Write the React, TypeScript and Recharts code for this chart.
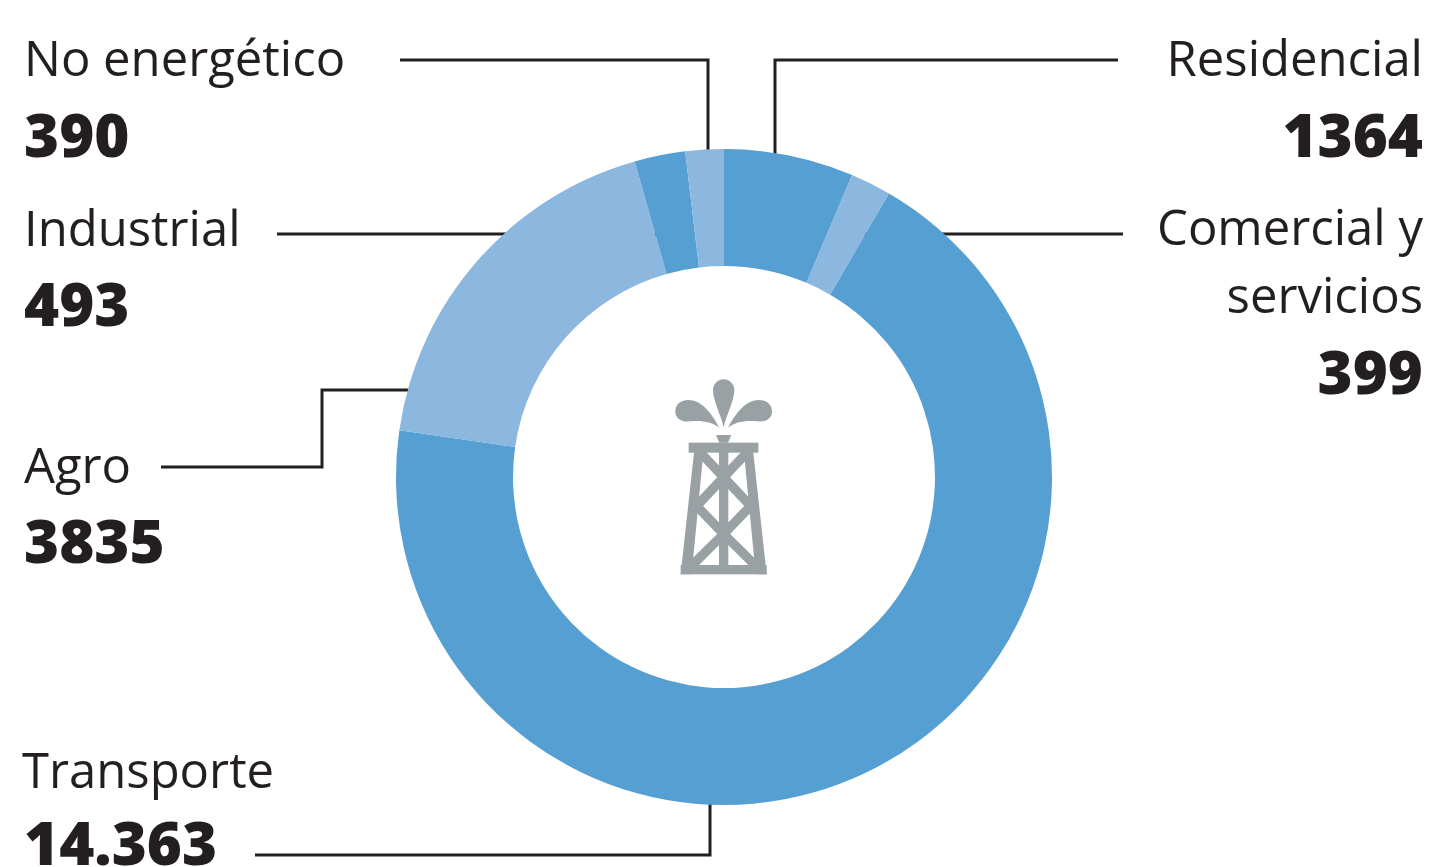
import { PieChart, Pie, Cell, Customized } from "recharts";

const categories = ["Residencial", "Comercial y servicios", "Transporte", "Agro", "Industrial", "No energético"];
const valueLabels = ["1364", "399", "14.363", "3835", "493", "390"];
// arc widths in degrees, they differ slightly from the printed values
const arcDegrees = [23, 7.2, 248, 66, 9, 6.8];
const sliceColors = ["#569fd2", "#8cb7df", "#569fd2", "#8cb7df", "#569fd2", "#8cb7df"];

const pieData = categories.map((name, i) => ({ name, arc: arcDegrees[i], label: valueLabels[i] }));

const INK = "#231f20";
const GREY = "#9aa1a4";
const FONT = "'Open Sans', sans-serif";

const leaders = [
  { points: "400,60 708,60 708,181", dot: [708, 181] },
  { points: "1118,60 775,60 775,181", dot: [775, 181] },
  { points: "277,234 684,234", dot: [684, 234] },
  { points: "1123,234 845,234", dot: [845, 234] },
  { points: "161,467 322,467 322,390 435,390", dot: [435, 390] },
  { points: "255,855 710,855 710,770", dot: [710, 770] },
];

const nameTexts = [
  { t: "No energético", x: 24, y: 76, a: "start" },
  { t: "Industrial", x: 24, y: 246, a: "start" },
  { t: "Agro", x: 24, y: 483, a: "start" },
  { t: "Transporte", x: 22, y: 788, a: "start" },
  { t: "Residencial", x: 1423, y: 76, a: "end" },
  { t: "Comercial y", x: 1423, y: 245, a: "end" },
  { t: "servicios", x: 1423, y: 313, a: "end" },
];

const numberTexts = [
  { t: "390", x: 24, y: 157, a: "start" },
  { t: "493", x: 24, y: 326, a: "start" },
  { t: "3835", x: 24, y: 563, a: "start" },
  { t: "14.363", x: 24, y: 865, a: "start" },
  { t: "1364", x: 1423, y: 157, a: "end" },
  { t: "399", x: 1423, y: 394, a: "end" },
];

function Derrick() {
  // drawn in a 3x grid, then scaled down onto the hole of the ring
  return (
    <g transform="translate(640 360) scale(0.3333)" fill={GREY}>
      <path d="M251 202 C243 165 219 122 219 90 A32 32 0 0 1 283 90 C283 122 259 165 251 202 Z" />
      <path id="leftDrop" d="M238 203 C215 160 185 120 145 120 C120 120 106 135 106 155 C106 175 125 187 150 184 C185 180 215 185 238 203 Z" />
      <path transform="translate(502 0) scale(-1 1)" d="M238 203 C215 160 185 120 145 120 C120 120 106 135 106 155 C106 175 125 187 150 184 C185 180 215 185 238 203 Z" />
      <path d="M228 225 H274 L264 248 H238 Z" />
      <rect x="146" y="248" width="209" height="30" />
      <path d="M162 278 H190 L155 643 H122 Z" />
      <path d="M340 278 H312 L347 643 H380 Z" />
      <rect x="237" y="270" width="28" height="345" />
      <rect x="122" y="615" width="258" height="28" />
      <polyline points="172,268 251,352 332,438 251,522 352,622" fill="none" stroke={GREY} strokeWidth="28" />
      <polyline points="330,268 251,352 170,438 251,522 150,622" fill="none" stroke={GREY} strokeWidth="28" />
    </g>
  );
}

function Annotations() {
  return (
    <g>
      <Derrick />
      {leaders.map((l) => (
        <g key={l.points}>
          <polyline points={l.points} fill="none" stroke={INK} strokeWidth={3} />
          <circle cx={l.dot[0]} cy={l.dot[1]} r={8} fill={INK} />
        </g>
      ))}
      {nameTexts.map((n) => (
        <text key={n.t} x={n.x} y={n.y} textAnchor={n.a as "start" | "end"} fontFamily={FONT} fontSize={49} fill={INK}>
          {n.t}
        </text>
      ))}
      {numberTexts.map((n) => (
        <text key={n.t} x={n.x} y={n.y} textAnchor={n.a as "start" | "end"} fontFamily={FONT} fontSize={60} fontWeight={800} fill={INK}>
          {n.t}
        </text>
      ))}
    </g>
  );
}

export default function App() {
  return (
    <div style={{ position: "absolute", left: 0, top: 0, width: 1437, height: 867, background: "#fff" }}>
      <PieChart width={1437} height={867} margin={{ top: 0, right: 0, bottom: 0, left: 0 }}>
        <Pie
          data={pieData}
          dataKey="arc"
          nameKey="name"
          cx={724}
          cy={477}
          innerRadius={211}
          outerRadius={328}
          startAngle={90}
          endAngle={-270}
          stroke="none"
          isAnimationActive={false}
        >
          {pieData.map((d, i) => (
            <Cell key={d.name} fill={sliceColors[i]} />
          ))}
        </Pie>
        <Customized component={Annotations} />
      </PieChart>
    </div>
  );
}
